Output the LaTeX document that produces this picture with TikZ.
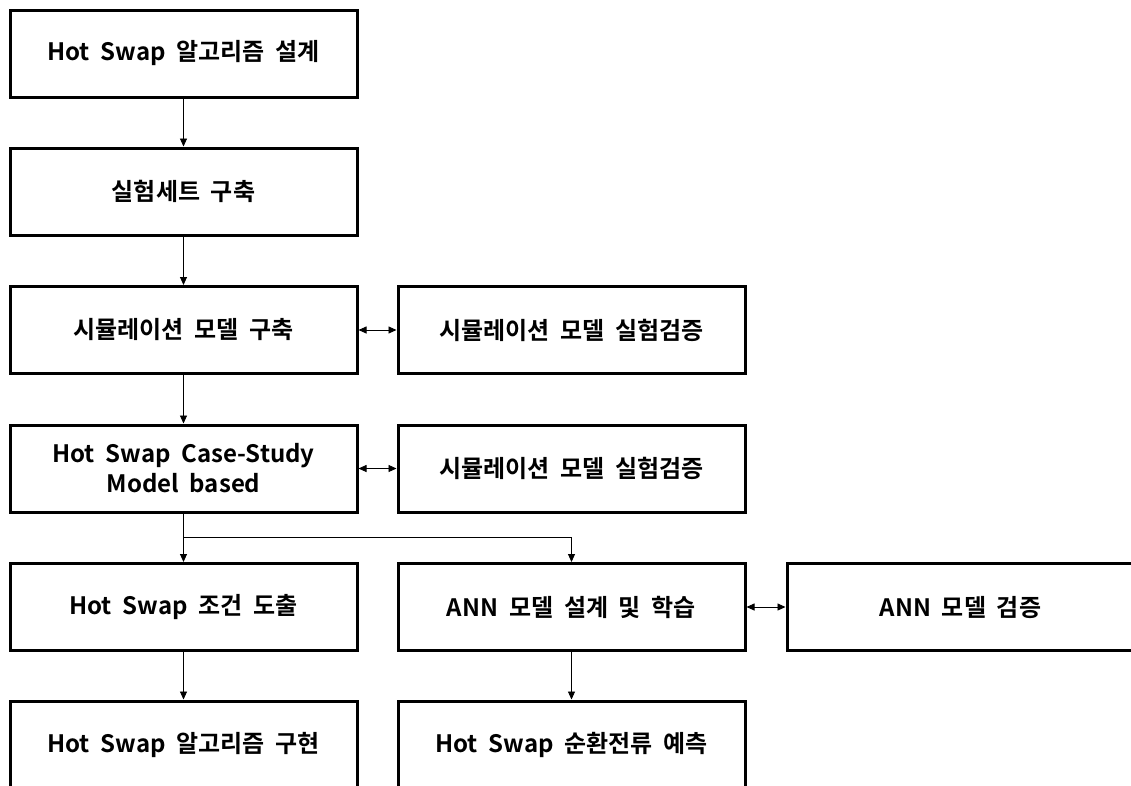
\documentclass[tikz,border=0pt]{standalone}
\usepackage{fontspec}
\setmainfont{Noto Sans CJK KR Bold}
\usetikzlibrary{arrows.meta}
\newcommand\widespaces{\spaceskip=0.45em\relax}
\begin{document}
\begin{tikzpicture}[x=1pt,y=-1pt,
  box/.style={draw=black,line width=3pt,minimum width=347pt,minimum height=87pt,
    inner sep=0pt,align=center,font=\fontsize{24}{30}\selectfont,
    execute at begin node=\widespaces},
  conn/.style={line width=0.9pt,-{Triangle[length=8pt,width=7pt]}},
  dconn/.style={line width=0.9pt,{Triangle[length=8pt,width=7pt]}-{Triangle[length=8pt,width=7pt]}}]
\useasboundingbox (0,0) rectangle (1131,785);
\clip (0,0) rectangle (1131,785);
\fill[white] (0,0) rectangle (1131,785);
\node[box] (a) at (183.5,53.5) {Hot Swap 알고리즘 설계};
\node[box] (b) at (183.5,191.5) {실험세트 구축};
\node[box] (c) at (183.5,330) {시뮬레이션 모델 구축};
\node[box] (c2) at (571.5,330) {시뮬레이션 모델 실험검증};
\node[box] (d) at (183.5,468.5) {Hot Swap Case-Study\\Model based};
\node[box] (d2) at (571.5,468.5) {시뮬레이션 모델 실험검증};
\node[box] (e) at (183.5,607) {Hot Swap 조건 도출};
\node[box] (e2) at (571.5,607) {ANN 모델 설계 및 학습};
\node[box] (e3) at (960.5,607) {ANN 모델 검증};
\node[box] (f) at (183.5,744.5) {Hot Swap 알고리즘 구현};
\node[box] (f2) at (571.5,744.5) {Hot Swap 순환전류 예측};
\coordinate (br) at (183.5,537);
\coordinate (br2) at (571.5,537);
\draw[conn] (a) -- (b);
\draw[conn] (b) -- (c);
\draw[conn] (c) -- (d);
\draw[conn] (d) -- (e);
\draw[conn] (br) -- (br2) -- (e2);
\draw[conn] (e) -- (f);
\draw[conn] (e2) -- (f2);
\draw[dconn] (c) -- (c2);
\draw[dconn] (d) -- (d2);
\draw[dconn] (e2) -- (e3);
\end{tikzpicture}
\end{document}
